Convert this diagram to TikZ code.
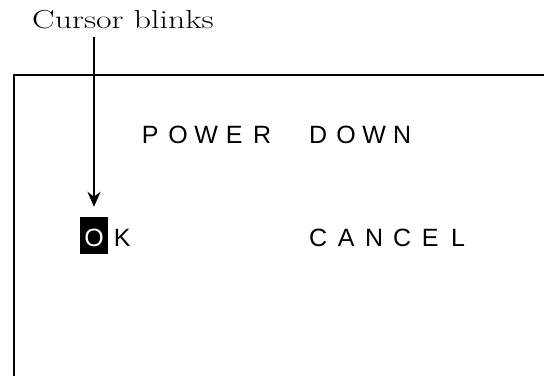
\documentclass[tikz,border=0pt]{standalone}
\usepackage{fontspec}
\usepackage{graphicx}
\newfontfamily\lcdfont{Liberation Sans}
\usetikzlibrary{arrows.meta}

\newlength\lcdw
\setlength\lcdw{28pt}
\newcommand\cell[1]{\makebox[\lcdw]{#1}}
\def\lcd#1{\lcdloop#1\relax}
\def\lcdloop#1{\ifx#1\relax\else\cell{#1}\expandafter\lcdloop\fi}

\tikzset{lcd/.style={font=\lcdfont\fontsize{25}{30}\selectfont, inner sep=0pt, anchor=base west}}

\begin{document}
\begin{tikzpicture}[x=1pt,y=-1pt]
    \useasboundingbox (0,0) rectangle (544,376);
    %marco de la pantalla
    \draw[line width=1.5pt] (544,75) -- (14,75) -- (14,376); %borde superior e izquierdo

    %texto de la pantalla
    \node[lcd] (title) at (136,143) {\lcd{POWER~DOWN}};
    \node[lcd, anchor=base, fill=black, text=white, text height=29pt, text depth=8pt] (curO) at (94,246) {\cell{O}}; %cursor
    \node[lcd] (okK) at (108,246) {\cell{K}};
    \node[lcd] (cancel) at (304,246) {\lcd{CANCEL}};

    %etiqueta del cursor
    \node[font=\fontsize{26}{30}\selectfont, anchor=base, inner sep=8pt] (cursor) at (123,28) {\scalebox{1.3}[1]{Cursor blinks}};
    \draw[-{Stealth[length=15pt,width=13pt]}, line width=1.6pt, shorten >=10pt] (cursor.south -| curO.north) -- (curO.north);
\end{tikzpicture}
\end{document}
